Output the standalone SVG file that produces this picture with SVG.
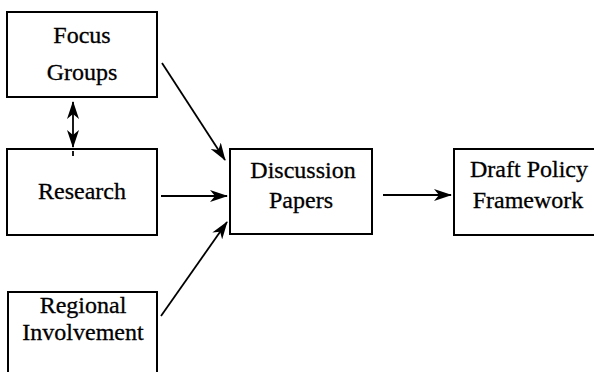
<svg xmlns="http://www.w3.org/2000/svg" width="594" height="372" viewBox="0 0 594 372">
  <style>
    .box { fill: #fff; stroke: #000; stroke-width: 2; }
    .lbl { font-family: "Liberation Serif", "DejaVu Serif", serif; font-size: 24px; fill: #000; stroke: #000; stroke-width: 0.3; text-anchor: middle; }
    .edge { stroke: #000; stroke-width: 1.8; fill: none; }
  </style>
  <defs>
    <marker id="head" viewBox="0 0 18 12" refX="17" refY="6" markerWidth="18" markerHeight="12" markerUnits="userSpaceOnUse" orient="auto-start-reverse">
      <path d="M0,0 L18,6 L0,12 L5,6 Z" fill="#000"/>
    </marker>
  </defs>
  <rect width="594" height="372" fill="#fff"/>

  <g id="focus-groups">
    <rect class="box" x="7" y="12" width="150" height="85"/>
    <text class="lbl" x="82" y="43">Focus</text>
    <text class="lbl" x="82" y="80">Groups</text>
  </g>
  <g id="research">
    <rect class="box" x="7" y="149" width="150" height="86"/>
    <text class="lbl" x="82" y="199">Research</text>
  </g>
  <g id="regional-involvement">
    <rect class="box" x="8" y="292" width="149" height="90"/>
    <text class="lbl" x="83" y="313">Regional</text>
    <text class="lbl" x="83" y="340">Involvement</text>
  </g>
  <g id="discussion-papers">
    <rect class="box" x="230" y="149" width="142" height="85"/>
    <text class="lbl" x="303" y="178">Discussion</text>
    <text class="lbl" x="301" y="208">Papers</text>
  </g>
  <g id="draft-policy-framework">
    <rect class="box" x="454" y="149" width="150" height="86"/>
    <text class="lbl" x="529" y="177">Draft Policy</text>
    <text class="lbl" x="528" y="208">Framework</text>
  </g>

  <g id="connectors">
    <line class="edge" x1="73" y1="102" x2="73" y2="147" marker-start="url(#head)" marker-end="url(#head)"/>
    <line class="edge" x1="73" y1="151" x2="73" y2="156"/>
    <line class="edge" x1="162" y1="63" x2="225" y2="160" marker-end="url(#head)"/>
    <line class="edge" x1="161" y1="196" x2="227" y2="196" marker-end="url(#head)"/>
    <line class="edge" x1="161" y1="316" x2="227" y2="222" marker-end="url(#head)"/>
    <line class="edge" x1="383" y1="195" x2="451" y2="195" marker-end="url(#head)"/>
  </g>
</svg>
